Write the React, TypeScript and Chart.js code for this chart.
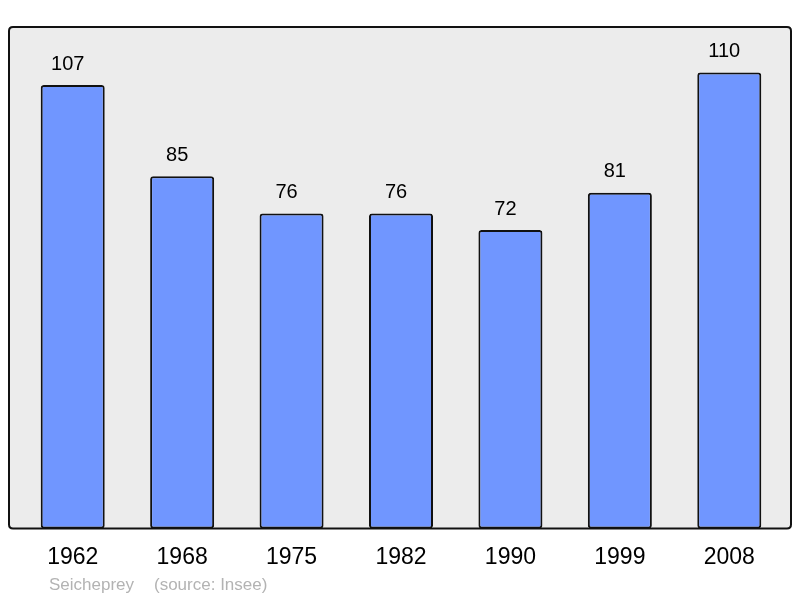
import React, { useEffect, useRef } from "react";
import { Chart, registerables } from "chart.js";

Chart.register(...registerables);

const years = ["1962", "1968", "1975", "1982", "1990", "1999", "2008"];
const population = [107, 85, 76, 76, 72, 81, 110];
const yMax = 121;
const footerPlace = "Seicheprey";
const footerSource = "(source: Insee)";

const FONT = "'Liberation Sans', Arial, sans-serif";

function roundRect(ctx: CanvasRenderingContext2D, x: number, y: number, w: number, h: number, r: number) {
  ctx.beginPath();
  ctx.moveTo(x + r, y);
  ctx.lineTo(x + w - r, y);
  ctx.quadraticCurveTo(x + w, y, x + w, y + r);
  ctx.lineTo(x + w, y + h - r);
  ctx.quadraticCurveTo(x + w, y + h, x + w - r, y + h);
  ctx.lineTo(x + r, y + h);
  ctx.quadraticCurveTo(x, y + h, x, y + h - r);
  ctx.lineTo(x, y + r);
  ctx.quadraticCurveTo(x, y, x + r, y);
  ctx.closePath();
}

const framePlugin = {
  id: "frame",
  beforeDatasetsDraw(chart: any) {
    const { ctx, chartArea } = chart;
    const x = chartArea.left - 9;
    const w = chartArea.right + 7 - x;
    ctx.save();
    roundRect(ctx, x, chartArea.top, w, chartArea.bottom - chartArea.top, 4);
    ctx.fillStyle = "#ececec";
    ctx.fill();
    ctx.restore();
  },
  afterDatasetsDraw(chart: any) {
    const { ctx, chartArea } = chart;
    const x = chartArea.left - 9;
    const w = chartArea.right + 7 - x;
    ctx.save();
    roundRect(ctx, x, chartArea.top, w, chartArea.bottom - chartArea.top, 4);
    ctx.lineWidth = 2;
    ctx.strokeStyle = "#111111";
    ctx.stroke();
    // value labels
    const meta = chart.getDatasetMeta(0);
    ctx.fillStyle = "#000000";
    ctx.font = `20px ${FONT}`;
    ctx.textAlign = "center";
    ctx.textBaseline = "middle";
    meta.data.forEach((bar: any, i: number) => {
      ctx.fillText(String(population[i]), bar.x - 5, bar.y - 21);
    });
    // footer
    ctx.fillStyle = "#b3b3b3";
    ctx.font = `17px ${FONT}`;
    ctx.textAlign = "left";
    ctx.textBaseline = "alphabetic";
    ctx.fillText(footerPlace, 49, 590);
    ctx.fillText(footerSource, 154, 590);
    ctx.restore();
  },
};

export default function App() {
  const ref = useRef<HTMLCanvasElement | null>(null);
  useEffect(() => {
    document.body.style.margin = "0";
    const chart = new Chart(ref.current as HTMLCanvasElement, {
      type: "bar",
      data: {
        labels: years,
        datasets: [
          {
            data: population,
            backgroundColor: "#7096ff",
            borderColor: "#111111",
            borderWidth: 2,
            borderRadius: 3,
            borderSkipped: false,
            barPercentage: 0.585,
            categoryPercentage: 1,
          },
        ],
      },
      options: {
        animation: false,
        responsive: false,
        layout: { padding: { left: 18, right: 16, top: 27, bottom: 0 } },
        plugins: { legend: { display: false }, tooltip: { enabled: false } },
        scales: {
          y: { display: false, min: 0, max: yMax },
          x: {
            grid: { display: false, drawTicks: false },
            border: { display: false },
            ticks: { color: "#000000", font: { size: 23, family: FONT }, padding: 15, maxRotation: 0 },
            afterFit: (scale: any) => {
              scale.height = 69.6;
            },
          },
        },
      },
      plugins: [framePlugin],
    });
    return () => chart.destroy();
  }, []);
  return <canvas ref={ref} width={800} height={598} style={{ display: "block" }} />;
}
